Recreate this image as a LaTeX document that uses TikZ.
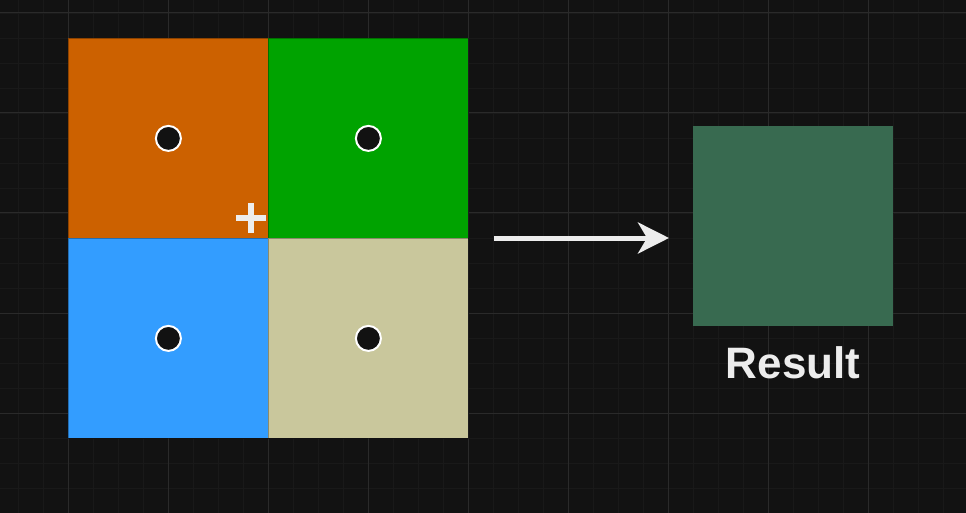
\documentclass[tikz,border=0pt]{standalone}
\usepackage{fontspec}
\setmainfont{Liberation Sans}
\usetikzlibrary{arrows.meta}
\definecolor{bgc}{HTML}{121212}
\definecolor{gridminor}{HTML}{191919}
\definecolor{gridmajor}{HTML}{2A2A2A}
\definecolor{corange}{HTML}{CC6100}
\definecolor{cgreen}{HTML}{00A300}
\definecolor{cblue}{HTML}{339DFF}
\definecolor{cbeige}{HTML}{C9C79C}
\definecolor{cresult}{HTML}{386A50}
\definecolor{dotfill}{HTML}{121212}
\definecolor{txtc}{HTML}{EDEDED}
\begin{document}
\begin{tikzpicture}[x=1pt,y=-1pt,
  cell/.style={minimum width=200pt,minimum height=200pt,inner sep=0pt,draw=black,draw opacity=0.3,line width=0.8pt,anchor=north west},
  dot/.style={circle,fill=dotfill,draw=white,line width=2pt,minimum size=25pt,inner sep=0pt},
  arr/.style={draw=txtc,line width=5pt,-{Stealth[length=31pt,width=31pt,inset=9pt]}},
  lbl/.style={text=txtc,font=\bfseries\fontsize{44}{50}\selectfont,inner sep=0pt}]
\useasboundingbox (0,0) rectangle (966,513);
\fill[bgc] (0,0) rectangle (966,513);
% minor grid
\foreach \x in {-7,18,43,...,966} \draw[gridminor,line width=0.8pt] (\x,0) -- (\x,513);
\foreach \y in {13,38,...,513} \draw[gridminor,line width=0.8pt] (0,\y) -- (966,\y);
% major grid
\foreach \x in {68,168,...,966} \draw[gridmajor,line width=1pt] (\x,0) -- (\x,513);
\foreach \y in {13,113,...,513} \draw[gridmajor,line width=1pt] (0,\y) -- (966,\y);
% cells
\node[cell,fill=corange] (c1) at (68,38) {};
\node[cell,fill=cgreen] (c2) at (268,38) {};
\node[cell,fill=cblue] (c3) at (68,238) {};
\node[cell,fill=cbeige] (c4) at (268,238) {};
\node[dot] (d1) at (c1.center) {};
\node[dot] (d2) at (c2.center) {};
\node[dot] (d3) at (c3.center) {};
\node[dot] (d4) at (c4.center) {};
% plus
\coordinate (pl) at (251,218);
\draw[txtc,line width=6pt] ([xshift=-15pt]pl) -- ([xshift=15pt]pl);
\draw[txtc,line width=6pt] ([yshift=-15pt]pl) -- ([yshift=15pt]pl);
% result
\node[minimum width=200pt,minimum height=200pt,inner sep=0pt,fill=cresult,anchor=north west] (res) at (693,126) {};
\node[lbl] (rl) at (793,363) {Result};
% arrow
\coordinate (a0) at (494,238);
\coordinate (a1) at (669,238);
\draw[arr] (a0) -- (a1);
\end{tikzpicture}
\end{document}
